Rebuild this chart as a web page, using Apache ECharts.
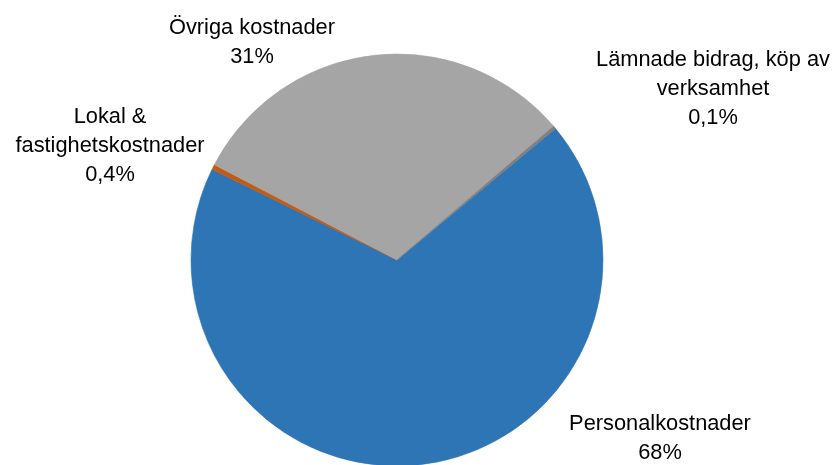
<!DOCTYPE html>
<html>
<head>
<meta charset="utf-8">
<script src="https://cdn.jsdelivr.net/npm/echarts@6/dist/echarts.min.js"></script>
<style>
html,body{margin:0;padding:0;background:#fff;}
#chart{width:832px;height:465px;}
</style>
</head>
<body>
<div id="chart"></div>
<script>
// Data
var categories = ['Personalkostnader', 'Lokal &\nfastighetskostnader', 'Övriga kostnader', 'Lämnade bidrag, köp av\nverksamhet'];
var values = [68.3, 0.4, 31.1, 0.22];
var pctLabels = ['68%', '0,4%', '31%', '0,1%'];
var colors = ['#2E75B6', '#C55A11', '#A5A5A5', '#7F7F7F'];

// Label anchor positions (layout only)
var labelAnchors = [[660, 438], [110, 146], [252, 42], [713, 89]];

var chart = echarts.init(document.getElementById('chart'), null, {renderer: 'canvas'});
chart.setOption({
  animation: false,
  backgroundColor: '#ffffff',
  series: [{
    type: 'pie',
    center: [397, 260],
    radius: [0, 206],
    startAngle: 39.7,
    clockwise: true,
    avoidLabelOverlap: false,
    itemStyle: {borderWidth: 0.6},
    data: categories.map(function (c, i) {
      return {name: c, value: values[i], itemStyle: {color: colors[i], borderColor: colors[i]}};
    }),
    label: {
      show: true,
      position: 'outside',
      formatter: function (p) { return p.name + '\n' + pctLabels[p.dataIndex]; },
      fontFamily: '"Liberation Sans", Arial, sans-serif',
      fontSize: 21.8,
      lineHeight: 29,
      color: '#000000',
      align: 'center'
    },
    labelLine: {show: false},
    labelLayout: function (params) {
      var a = labelAnchors[params.dataIndex];
      return {x: a[0], y: a[1], align: 'center', verticalAlign: 'middle'};
    }
  }]
});
</script>
</body>
</html>
